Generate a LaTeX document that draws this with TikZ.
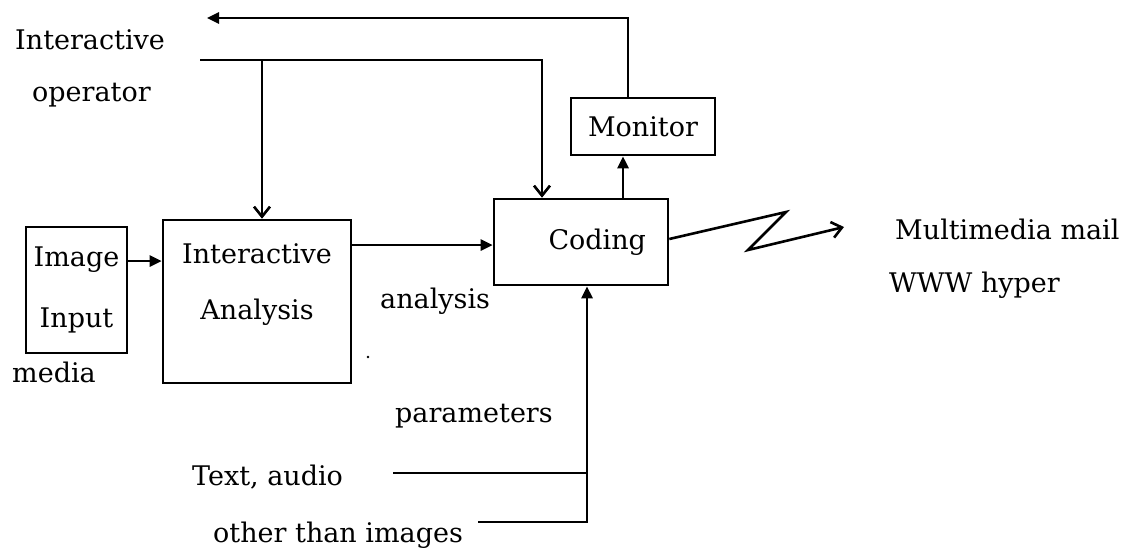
\documentclass[tikz,border=0pt]{standalone}
\usepackage{fontspec}
\setmainfont{DejaVu Serif}
\usetikzlibrary{arrows.meta}
\newcommand\dfont{\fontsize{27}{30}\selectfont}
\tikzset{
  blk/.style={draw, line width=2.6pt, inner sep=0pt, font=\dfont},
  lbl/.style={inner sep=0pt, anchor=base west, font=\dfont},
  wire/.style={line width=2.6pt},
  fa/.style={wire, -{Triangle[length=12pt,width=11pt]}},
  va/.style={wire, -{Straight Barb[length=10pt,width=16pt,line width=2.6pt]}},
}
\begin{document}
\begin{tikzpicture}[x=1pt, y=-1pt, line join=miter]
  \useasboundingbox (0,0) rectangle (1134,550);

  % blocks
  \node[blk, minimum width=101pt, minimum height=126pt, align=center,
        font=\fontsize{27}{61}\selectfont] (img) at (76.5,290) {Image\\Input};
  \node[blk, minimum width=188pt, minimum height=163pt, align=center,
        font=\fontsize{27}{56}\selectfont, text depth=40pt] (ia) at (257,301.5) {Interactive\\Analysis};
  \node[blk, minimum width=174pt, minimum height=86pt, inner xsep=22pt,
        text width=130pt, align=right] (cod) at (581,242) {Coding};
  \node[blk, minimum width=144pt, minimum height=57pt] (mon) at (643,126.5) {Monitor};

  % free labels
  \node[lbl] (lint) at (15,49) {Interactive};
  \node[lbl] (lop) at (32,101) {operator};
  \node[lbl] (lmedia) at (12,382) {media};
  \node[lbl] (lana) at (380,308) {analysis};
  \node[lbl] (lpar) at (395,422) {parameters};
  \node[lbl] (ltext) at (192,485) {Text, audio};
  \node[lbl] (loth) at (213,542) {other than images};
  \node[lbl] (lmm) at (895,239) {Multimedia mail};
  \node[lbl] (lwww) at (889,292) {WWW hyper};

  % routing points
  \coordinate (opstart) at (200,60);
  \coordinate (opbranch) at (262,60);
  \coordinate (opcorner) at (542,60);
  \coordinate (fbcorner) at (628,18);
  \coordinate (fbend) at (207,18);
  \coordinate (upx) at (623,0);
  \coordinate (zz1) at (786,212);
  \coordinate (zz2) at (748,250);
  \coordinate (zzend) at (844,227);
  \coordinate (pbot) at (587,522);
  \coordinate (othstart) at (478,522);
  \coordinate (tastart) at (393,473);

  % main chain
  \draw[fa] (img.east |- 0,261) -- (ia.west |- 0,261);
  \draw[fa] (ia.east |- 0,245) -- (cod.west |- 0,245);

  % operator input
  \draw[va] (opstart) -- (opcorner) -- (cod.north -| opcorner);
  \draw[va] (opbranch) -- (ia.north -| opbranch);

  % monitor and feedback
  \draw[fa] (cod.north -| upx) -- (mon.south -| upx);
  \draw[fa] (mon.north -| fbcorner) -- (fbcorner) -- (fbend);

  % transmission link
  \draw[va] (cod.east |- 0,239) -- (zz1) -- (zz2) -- (zzend);

  % other media
  \draw[fa] (othstart) -- (pbot) -- (cod.south -| pbot);
  \draw[wire] (tastart) -- (tastart -| pbot);

  % speck
  \fill (368,357) circle (1.4pt);
\end{tikzpicture}
\end{document}
